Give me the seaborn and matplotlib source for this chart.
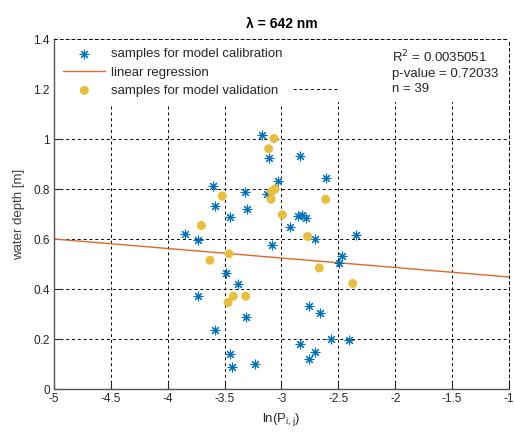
import matplotlib
matplotlib.use("Agg")
import matplotlib.pyplot as plt
import seaborn as sns
import numpy as np
import pandas as pd
from matplotlib.patches import Rectangle

# ---- data ----
calib_x = [-3.174, -3.113, -3.028, -3.600, -3.321, -3.130, -3.582, -3.306, -3.453,
           -3.846, -3.737, -3.081, -2.837, -2.612, -2.858, -2.823, -2.787, -2.925,
           -2.705, -2.345, -2.471, -2.495, -2.758, -2.662, -2.567, -2.404, -2.835,
           -2.705, -2.758, -3.488, -3.380, -3.737, -3.312, -3.582, -3.453, -3.233,
           -3.435]
calib_y = [1.015, 0.923, 0.831, 0.811, 0.787, 0.780, 0.731, 0.722, 0.689,
           0.621, 0.598, 0.578, 0.933, 0.844, 0.694, 0.697, 0.685, 0.647,
           0.601, 0.618, 0.531, 0.504, 0.332, 0.304, 0.202, 0.198, 0.181,
           0.149, 0.120, 0.465, 0.422, 0.371, 0.288, 0.235, 0.140, 0.102,
           0.089]
valid_x = [-3.066, -3.113, -3.057, -3.086, -3.092, -3.520, -3.705, -3.461, -3.629,
           -2.612, -2.993, -2.770, -2.668, -2.374, -3.424, -3.315, -3.470]
valid_y = [1.002, 0.961, 0.800, 0.790, 0.759, 0.772, 0.654, 0.541, 0.515,
           0.759, 0.697, 0.610, 0.484, 0.422, 0.371, 0.371, 0.346]
reg_slope = -0.038
reg_intercept = 0.41
x_limits = [-5, -1]
y_limits = [0, 1.4]
x_ticks = [-5, -4.5, -4, -3.5, -3, -2.5, -2, -1.5, -1]
y_ticks = [0, 0.2, 0.4, 0.6, 0.8, 1, 1.2, 1.4]
x_tick_labels = ["-5", "-4.5", "-4", "-3.5", "-3", "-2.5", "-2", "-1.5", "-1"]
y_tick_labels = ["0", "0.2", "0.4", "0.6", "0.8", "1", "1.2", "1.4"]
stats_text = "R$^2$ = 0.0035051\np-value = 0.72033\nn = 39"
title = "λ = 642 nm"

sns.set_theme(style="white")
plt.rcParams["font.family"] = ["Liberation Sans", "DejaVu Sans"]

BLUE = "#0072BD"
ORANGE = "#E0662A"
YELLOW = "#E9BE3A"
TXT = "#262626"

fig = plt.figure(figsize=(5.14, 4.37), dpi=100)
ax = fig.add_axes([54 / 514, 1 - 389 / 437, 455 / 514, 350 / 437])

df_c = pd.DataFrame({"x": calib_x, "y": calib_y})
df_v = pd.DataFrame({"x": valid_x, "y": valid_y})
reg_x = np.array(x_limits, dtype=float)
df_r = pd.DataFrame({"x": reg_x, "y": reg_intercept + reg_slope * reg_x})

sns.scatterplot(data=df_c, x="x", y="y", ax=ax, marker=(8, 2, 0), s=40,
                color=BLUE, edgecolor=BLUE, linewidth=0.8, zorder=4,
                label="samples for model calibration")
sns.lineplot(data=df_r, x="x", y="y", ax=ax, color=ORANGE, linewidth=1.0,
             zorder=3, label="linear regression")
sns.scatterplot(data=df_v, x="x", y="y", ax=ax, marker="o", s=42,
                color=YELLOW, edgecolor="none", linewidth=0, zorder=4,
                label="samples for model validation")

ax.set_xlim(x_limits)
ax.set_ylim(y_limits)
ax.set_xticks(x_ticks)
ax.set_xticklabels(x_tick_labels)
ax.set_yticks(y_ticks)
ax.set_yticklabels(y_tick_labels)
ax.tick_params(axis="both", direction="in", length=4, width=0.8, colors=TXT,
               labelsize=8.5, bottom=True, left=True, top=False, right=False,
               pad=3)
ax.grid(True, color="black", linestyle=(0, (3, 3)), linewidth=0.7)
ax.set_axisbelow(True)

for side in ["left", "bottom"]:
    ax.spines[side].set_color("#555555")
    ax.spines[side].set_linewidth(1.0)
    ax.spines[side].set_zorder(7)
for side in ["top", "right"]:
    ax.spines[side].set_color("black")
    ax.spines[side].set_linewidth(0.7)
    ax.spines[side].set_linestyle((0, (3, 3)))
    ax.spines[side].set_zorder(7)

ax.set_xlabel("ln(P$_{\\mathregular{i,j}}$)", fontsize=9.5, color=TXT, labelpad=4)
ax.set_ylabel("water depth [m]", fontsize=9.5, color="#404040", labelpad=6)
ax.set_title(title, fontsize=10, fontweight="bold", color="black", pad=8)

leg = ax.legend(loc="upper left", bbox_to_anchor=(0, 1), borderaxespad=0,
                frameon=True, fancybox=False, framealpha=1, facecolor="white",
                edgecolor="none", fontsize=9.5, handlelength=3.2,
                handletextpad=0.4, labelspacing=0.45, borderpad=0.7)
leg.set_zorder(6)
for t in leg.get_texts():
    t.set_color(TXT)

ax.add_patch(Rectangle((0.624, 0.82), 0.376, 0.18, transform=ax.transAxes,
                       facecolor="white", edgecolor="none", zorder=5))
ax.text(0.743, 0.972, stats_text, transform=ax.transAxes, ha="left", va="top",
        fontsize=9.5, color=TXT, linespacing=1.3, zorder=6)

fig.savefig("out.png", dpi=100)
